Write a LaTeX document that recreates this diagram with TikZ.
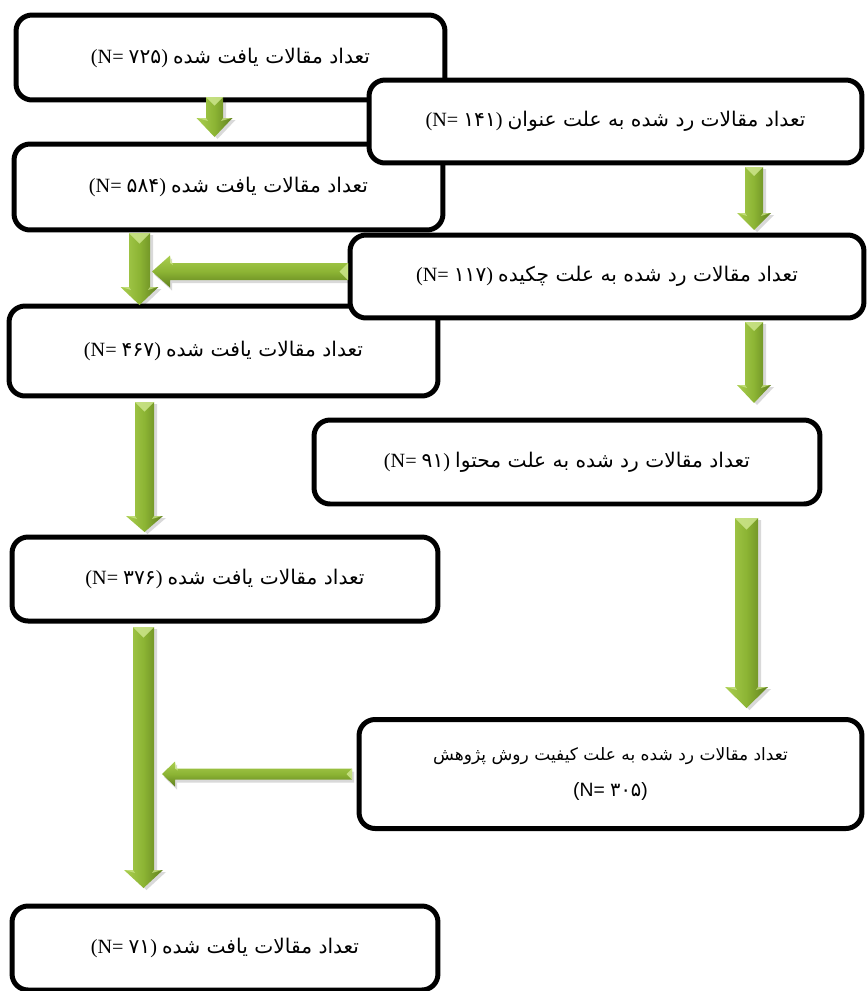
\documentclass[tikz,border=0pt]{standalone}
\usepackage{fontspec}
\setmainfont{Liberation Serif}
\newfontfamily\fa[Script=Arabic]{DejaVu Sans}
\newfontfamily\lsans{Liberation Sans}
\TeXXeTstate=1
\usetikzlibrary{calc}
\newcommand{\fatxt}[1]{{\fa\beginR #1\endR}}
\definecolor{gLight}{RGB}{170,206,80}
\definecolor{gMid}{RGB}{140,180,52}
\definecolor{gDark}{RGB}{96,128,30}
\definecolor{gHi}{RGB}{205,230,140}
% vertical block arrow: cx, top, headstart, tip, shaft half width, head half width
\newcommand{\vblk}[6]{%
  \fill[black, opacity=0.15] ($(#1-#5,#2)+(3,2)$) -- ($(#1+#5,#2)+(3,2)$) -- ($(#1+#5,#3)+(3,2)$) -- ($(#1+#6,#3)+(3,2)$) -- ($(#1,#4)+(3,2)$) -- ($(#1-#6,#3)+(3,2)$) -- ($(#1-#5,#3)+(3,2)$) -- cycle;
  \shade[left color=gLight, right color=gDark, middle color=gMid]
    (#1-#5,#2) -- (#1+#5,#2) -- (#1+#5,#3) -- (#1+#6,#3) -- (#1,#4) -- (#1-#6,#3) -- (#1-#5,#3) -- cycle;
  \fill[gHi, opacity=0.85] (#1-#5,#2) -- (#1+#5,#2) -- (#1,#2+#5) -- cycle;
  \fill[gHi, opacity=0.75] (#1-#6+1,#3) -- (#1-#5,#3) -- (#1-#5+2,#3+3) -- cycle;
  \fill[gHi, opacity=0.75] (#1+#6-1,#3) -- (#1+#5,#3) -- (#1+#5-2,#3+3) -- cycle;
}
% horizontal left block arrow: cy, tail x, head base x, tip x, shaft half width, head half width
\newcommand{\hblk}[6]{%
  \fill[black, opacity=0.15] ($(#2,#1-#5)+(2,3)$) -- ($(#3,#1-#5)+(2,3)$) -- ($(#3,#1-#6)+(2,3)$) -- ($(#4,#1)+(2,3)$) -- ($(#3,#1+#6)+(2,3)$) -- ($(#3,#1+#5)+(2,3)$) -- ($(#2,#1+#5)+(2,3)$) -- cycle;
  \shade[top color=gLight, bottom color=gDark, middle color=gMid]
    (#2,#1-#5) -- (#3,#1-#5) -- (#3,#1-#6) -- (#4,#1) -- (#3,#1+#6) -- (#3,#1+#5) -- (#2,#1+#5) -- cycle;
  \fill[gHi, opacity=0.85] (#2,#1-#5) -- (#2,#1+#5) -- (#2-#5,#1) -- cycle;
  \fill[gHi, opacity=0.75] (#3,#1-#6+1) -- (#3,#1-#5) -- (#3+3,#1-#5+2) -- cycle;
}
\begin{document}
\begin{tikzpicture}[x=0.02cm,y=-0.02cm]
\tikzset{box/.style={draw=black, line width=0.1cm, rounded corners=0.32cm, fill=white,
  inner sep=0pt, font=\fontsize{11.5}{14}\selectfont, align=center}}
\useasboundingbox (0,0) rectangle (866,991);
% left column
\node[box, minimum width=8.58cm, minimum height=1.70cm] (b1) at (230.5,57.5)
  {(N= {\fa ۷۲۵}) \fatxt{تعداد مقالات یافت شده}};
\node[box, minimum width=8.58cm, minimum height=1.72cm] (b3) at (228.5,187)
  {(N= {\fa ۵۸۴}) \fatxt{تعداد مقالات یافت شده}};
\node[box, minimum width=8.58cm, minimum height=1.80cm] (b5) at (223.5,351)
  {(N= {\fa ۴۶۷}) \fatxt{تعداد مقالات یافت شده}};
\node[box, minimum width=8.52cm, minimum height=1.68cm] (b7) at (225,579)
  {(N= {\fa ۳۷۶}) \fatxt{تعداد مقالات یافت شده}};
\node[box, minimum width=8.52cm, minimum height=1.68cm] (b9) at (225,948)
  {(N= {\fa ۷۱}) \fatxt{تعداد مقالات یافت شده}};
% right column
\node[box, minimum width=9.86cm, minimum height=1.66cm] (b2) at (615.5,121.5)
  {(N= {\fa ۱۴۱}) \fatxt{تعداد مقالات رد شده به علت عنوان}};
\node[box, minimum width=10.28cm, minimum height=1.66cm] (b4) at (607,276.5)
  {(N= {\fa ۱۱۷}) \fatxt{تعداد مقالات رد شده به علت چکیده}};
\node[box, minimum width=10.12cm, minimum height=1.68cm] (b6) at (567,462)
  {(N= {\fa ۹۱}) \fatxt{تعداد مقالات رد شده به علت محتوا}};
\node[box, minimum width=10.06cm, minimum height=2.18cm, font=\fontsize{9.7}{20.5}\selectfont] (b8) at (610.5,774)
  {\fatxt{تعداد مقالات رد شده به علت کیفیت روش پژوهش}\\
   {\lsans\fontsize{11}{20.5}\selectfont (N= {\fa ۳۰۵})}};
% arrows
\vblk{214.5}{97}{118}{137}{8.5}{18}
\vblk{754}{167}{213}{230}{9}{17}
\vblk{139.5}{233}{287}{305}{10.5}{19}
\hblk{271.5}{348}{170}{152}{8.5}{16}
\vblk{754}{322}{385}{403}{9}{17}
\vblk{144.5}{402}{516}{532}{9.5}{18.5}
\vblk{746.5}{518}{687}{708}{11.5}{21.5}
\vblk{143.5}{627}{870}{888}{10.5}{19.5}
\hblk{774}{352}{175}{162}{5.5}{12.5}
\end{tikzpicture}
\end{document}
